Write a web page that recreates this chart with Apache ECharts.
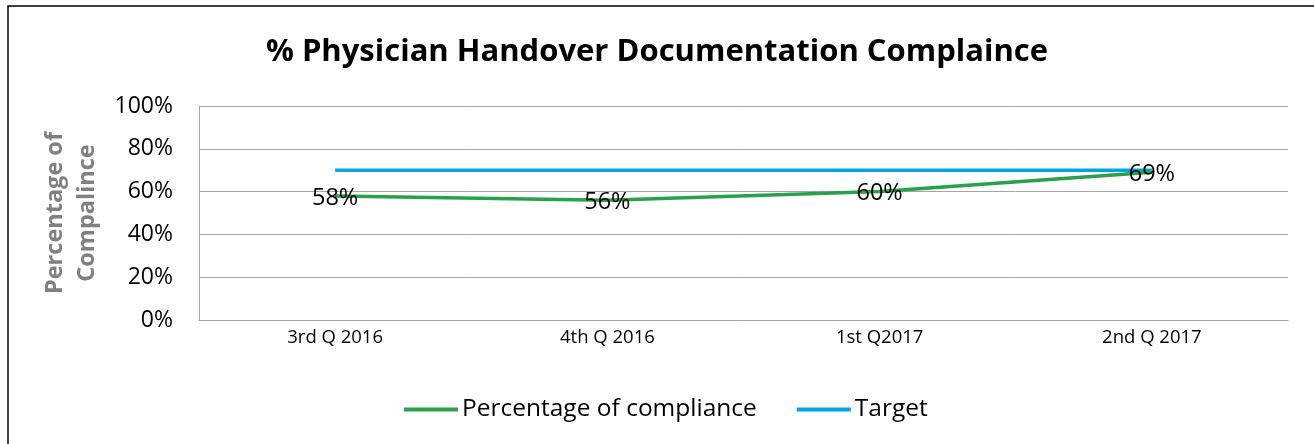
<!DOCTYPE html>
<html>
<head>
<meta charset="utf-8">
<script src="https://cdn.jsdelivr.net/npm/echarts@6/dist/echarts.min.js"></script>
<style>
  html, body { margin: 0; padding: 0; background: #fff; }
  #chart { width: 1314px; height: 444px; }
</style>
</head>
<body>
<div id="chart"></div>
<script>
// 数据
var quarters = ['3rd Q 2016', '4th Q 2016', '1st Q2017', '2nd Q 2017'];
var compliance = [0.58, 0.56, 0.60, 0.69];
var target = [0.70, 0.70, 0.70, 0.70];
var yTicks = [0, 0.2, 0.4, 0.6, 0.8, 1.0];

var chart = echarts.init(document.getElementById('chart'));
var font = 'Open Sans';

var option = {
  backgroundColor: '#fff',
  animation: false,
  title: {
    text: '% Physician Handover Documentation Complaince',
    left: 'center',
    top: 32,
    textStyle: { fontFamily: font, fontSize: 31, fontWeight: 'bold', color: '#000' }
  },
  graphic: [{
    type: 'rect',
    shape: { x: 8, y: 6, width: 1400, height: 500 },
    style: { fill: 'none', stroke: '#000', lineWidth: 1.5 },
    silent: true
  }],
  legend: {
    left: 399,
    top: 392,
    icon: 'rect',
    itemWidth: 54,
    itemHeight: 4,
    itemGap: 40,
    textStyle: { fontFamily: font, fontSize: 24.5, color: '#000', padding: [0, 0, 0, -1] },
    data: ['Percentage of compliance', 'Target']
  },
  grid: { left: 199, top: 106, right: 26, bottom: 124 },
  xAxis: {
    type: 'category',
    data: quarters,
    axisTick: { show: false },
    axisLine: { lineStyle: { color: '#A6A6A6' } },
    axisLabel: { fontFamily: font, fontSize: 18.5, color: '#000', margin: 8 }
  },
  yAxis: {
    type: 'value',
    min: yTicks[0],
    max: yTicks[yTicks.length - 1],
    interval: 0.2,
    name: 'Percentage of\nCompalince',
    nameLocation: 'middle',
    nameRotate: 90,
    nameGap: 92,
    nameTextStyle: { fontFamily: font, fontSize: 23.5, fontWeight: 'bold', color: '#808080', lineHeight: 32 },
    axisLine: { show: true, lineStyle: { color: '#A6A6A6' } },
    axisTick: { show: false },
    splitLine: { lineStyle: { color: '#A6A6A6' } },
    axisLabel: {
      fontFamily: font, fontSize: 23, color: '#000', margin: 26,
      formatter: function (v) { return Math.round(v * 100) + '%'; }
    }
  },
  series: [{
    name: 'Percentage of compliance',
    type: 'line',
    data: compliance,
    symbol: 'circle',
    symbolSize: 1,
    showSymbol: true,
    lineStyle: { color: '#27A24A', width: 3.5 },
    itemStyle: { color: '#27A24A' },
    label: {
      show: true,
      position: 'inside',
      offset: [0, 2],
      fontFamily: font, fontSize: 23.5, color: '#000',
      formatter: function (p) { return Math.round(p.value * 100) + '%'; }
    },
    z: 3
  }, {
    name: 'Target',
    type: 'line',
    data: target,
    symbol: 'none',
    lineStyle: { color: '#00A6E2', width: 3.5 },
    itemStyle: { color: '#00A6E2' },
    z: 2
  }]
};

chart.setOption(option);
</script>
</body>
</html>
